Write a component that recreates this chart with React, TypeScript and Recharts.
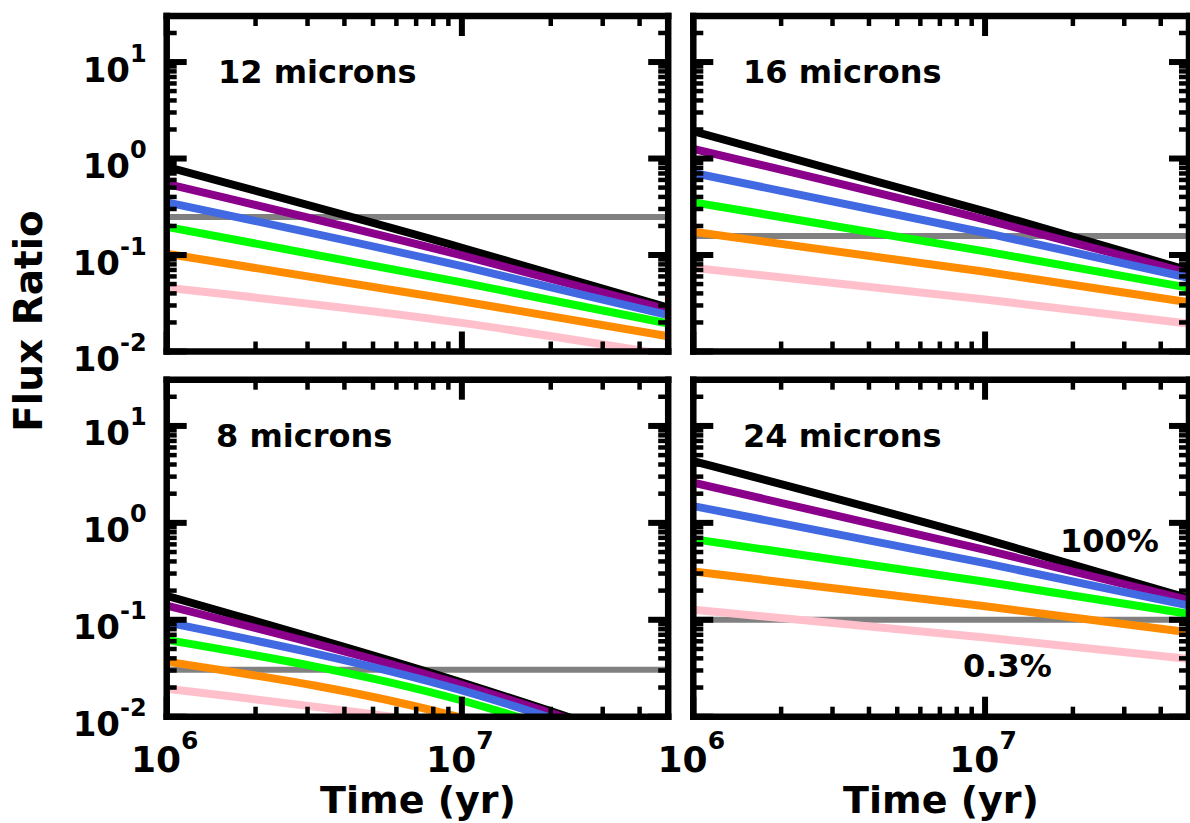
import React from 'react'
import { LineChart, Line, XAxis, YAxis } from 'recharts'

// time grid (yr)
const times = [1e6, 1e7, 5e7]

// 12 microns
const black12 = [0.82, 0.119, 0.0284]
const purple12 = [0.547, 0.099, 0.0272]
const blue12 = [0.352, 0.0766, 0.0238]
const green12 = [0.196, 0.052, 0.0195]
const orange12 = [0.103, 0.0332, 0.0144]
const pink12 = [0.0457, 0.0198, 0.0092]
const gray12 = 0.247

// 16 microns
const black16 = [1.92, 0.284, 0.069]
const purple16 = [1.26, 0.233, 0.065]
const blue16 = [0.71, 0.17, 0.058]
const green16 = [0.352, 0.109, 0.0457]
const orange16 = [0.174, 0.067, 0.0324]
const pink16 = [0.0736, 0.0346, 0.0194]
const gray16 = 0.157

// 8 microns
const black8 = [0.177, 0.0225, 0.0045]
const purple8 = [0.14, 0.0213, 0.0043]
const blue8 = [0.094, 0.0187, 0.0038]
const green8 = [0.062, 0.0147, 0.003]
const orange8 = [0.037, 0.0097, 0.002]
const pink8 = [0.0194, 0.0079, 0.0035]
const gray8 = 0.0305

// 24 microns
const black24 = [4.33, 0.68, 0.166]
const purple24 = [2.6, 0.526, 0.16]
const blue24 = [1.49, 0.384, 0.14]
const green24 = [0.68, 0.247, 0.115]
const orange24 = [0.315, 0.138, 0.0743]
const pink24 = [0.127, 0.0655, 0.0395]
const gray24 = 0.1

const seriesKeys = ['black', 'purple', 'blue', 'green', 'orange', 'pink']
const seriesColors = ['#000000', '#8b008b', '#4169e1', '#00ff00', '#ff8c00', '#ffc0cb']

const xMajor = [1e6, 1e7]
const xMinor = [2e6, 3e6, 4e6, 5e6, 6e6, 7e6, 8e6, 9e6, 2e7, 3e7, 4e7]
const yMajor = [0.01, 0.1, 1, 10]
const yMinor = [
  0.02, 0.03, 0.04, 0.05, 0.06, 0.07, 0.08, 0.09,
  0.2, 0.3, 0.4, 0.5, 0.6, 0.7, 0.8, 0.9,
  2, 3, 4, 5, 6, 7, 8, 9, 20,
]

const W = 1190
const H = 823
const FONT = '"DejaVu Sans", sans-serif'
const AX = 1

function buildRows(cols: number[][], gray: number) {
  return times.map((t, i) => {
    const row: any = { t, gray }
    seriesKeys.forEach((k, j) => { row[k] = cols[j][i] })
    return row
  })
}

function expLabel(v: number) {
  return String(Math.round(Math.log10(v)))
}

function makeTick(side: 'bottom' | 'top' | 'left' | 'right', showLabel: boolean) {
  return (props: any) => {
    const { x, y, payload } = props
    const v = payload.value
    const major = side === 'bottom' || side === 'top' ? xMajor.includes(v) : yMajor.includes(v)
    const len = major ? 20 : 10
    const sw = major ? 6 : 4.5
    let x2 = x, y2 = y
    if (side === 'bottom') y2 = y - len
    if (side === 'top') y2 = y + len
    if (side === 'left') x2 = x + len
    if (side === 'right') x2 = x - len
    return (
      <g>
        <line x1={x} y1={y} x2={x2} y2={y2} stroke="#000" strokeWidth={sw} />
        {showLabel && major && side === 'bottom' && (
          <text x={x - 2} y={y + 55} textAnchor="middle" fontFamily={FONT} fontWeight="bold" fontSize={36} fill="#000">
            <tspan>10</tspan>
            <tspan dy={-23} fontSize={25}>{expLabel(v)}</tspan>
          </text>
        )}
        {showLabel && major && side === 'left' && (
          <text x={x - 20} y={y + 19.5} textAnchor="end" fontFamily={FONT} fontWeight="bold" fontSize={34} fill="#000">
            <tspan>10</tspan>
            <tspan dy={-20} fontSize={24}>{expLabel(v)}</tspan>
          </text>
        )}
      </g>
    )
  }
}

interface PanelProps {
  rows: any[]
  left: number
  right: number
  top: number
  bottom: number
  xLabels: boolean
  yLabels: boolean
}

function Panel({ rows, left, right, top, bottom, xLabels, yLabels }: PanelProps) {
  const frame = { stroke: '#000', strokeWidth: 6.5, strokeLinecap: 'square' as const }
  return (
    <div style={{ position: 'absolute', left: 0, top: 0 }}>
      <LineChart
        width={W}
        height={H}
        data={rows}
        margin={{ left: left - AX, right: W - right - AX, top: top - AX, bottom: H - bottom - AX }}
      >
        <XAxis xAxisId="b" dataKey="t" type="number" scale="log" domain={[1e6, 5e7]} allowDataOverflow
          orientation="bottom" height={AX} ticks={[...xMajor, ...xMinor]} interval={0}
          tickSize={0} tickMargin={0} tickLine={false} axisLine={frame} tick={makeTick('bottom', xLabels)} />
        <XAxis xAxisId="t" dataKey="t" type="number" scale="log" domain={[1e6, 5e7]} allowDataOverflow
          orientation="top" height={AX} ticks={[...xMajor, ...xMinor]} interval={0}
          tickSize={0} tickMargin={0} tickLine={false} axisLine={frame} tick={makeTick('top', false)} />
        <YAxis yAxisId="l" type="number" scale="log" domain={[0.01, 30]} allowDataOverflow
          orientation="left" width={AX} ticks={[...yMajor, ...yMinor]} interval={0}
          tickSize={0} tickMargin={0} tickLine={false} axisLine={frame} tick={makeTick('left', yLabels)} />
        <YAxis yAxisId="r" type="number" scale="log" domain={[0.01, 30]} allowDataOverflow
          orientation="right" width={AX} ticks={[...yMajor, ...yMinor]} interval={0}
          tickSize={0} tickMargin={0} tickLine={false} axisLine={frame} tick={makeTick('right', false)} />
        <Line xAxisId="b" yAxisId="l" dataKey="gray" stroke="#808080" strokeWidth={6}
          dot={false} isAnimationActive={false} type="linear" />
        {seriesKeys.map((k, i) => (
          <Line key={k} xAxisId="b" yAxisId="l" dataKey={k} stroke={seriesColors[i]} strokeWidth={8}
            dot={false} isAnimationActive={false} type="monotone" />
        ))}
      </LineChart>
    </div>
  )
}

export default function App() {
  const rows12 = buildRows([black12, purple12, blue12, green12, orange12, pink12], gray12)
  const rows16 = buildRows([black16, purple16, blue16, green16, orange16, pink16], gray16)
  const rows8 = buildRows([black8, purple8, blue8, green8, orange8, pink8], gray8)
  const rows24 = buildRows([black24, purple24, blue24, green24, orange24, pink24], gray24)

  const txt = { fontFamily: FONT, fontWeight: 'bold' as const, fill: '#000' }

  return (
    <div style={{ position: 'absolute', left: 0, top: 0, width: W, height: H, overflow: 'hidden', background: '#fff' }}>
      <Panel rows={rows12} left={166.7} right={668.2} top={16} bottom={351.5} xLabels={false} yLabels />
      <Panel rows={rows16} left={693.3} right={1189} top={16} bottom={351.5} xLabels={false} yLabels={false} />
      <Panel rows={rows8} left={166.7} right={668.2} top={379.7} bottom={716.7} xLabels yLabels />
      <Panel rows={rows24} left={693.3} right={1189} top={379.7} bottom={716.7} xLabels yLabels={false} />
      <svg width={W} height={H} style={{ position: 'absolute', left: 0, top: 0, pointerEvents: 'none' }}>
        <text x={218} y={83} fontSize={32} {...txt}>12 microns</text>
        <text x={743} y={83} fontSize={32} {...txt}>16 microns</text>
        <text x={216} y={447} fontSize={32} {...txt}>8 microns</text>
        <text x={743} y={447} fontSize={32} {...txt}>24 microns</text>
        <text x={1060} y={552} fontSize={32} {...txt}>100%</text>
        <text x={963} y={677} fontSize={32} {...txt}>0.3%</text>
        <text x={418} y={813} fontSize={38} textAnchor="middle" {...txt}>Time (yr)</text>
        <text x={941} y={813} fontSize={38} textAnchor="middle" {...txt}>Time (yr)</text>
        <text x={42} y={321} fontSize={39} textAnchor="middle" transform="rotate(-90 42 321)" {...txt}>Flux Ratio</text>
      </svg>
    </div>
  )
}
